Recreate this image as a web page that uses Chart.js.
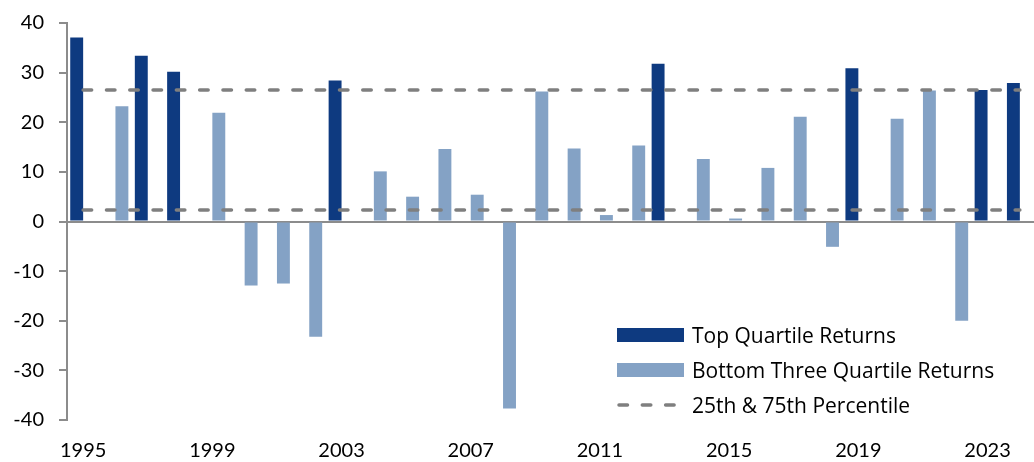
<!DOCTYPE html>
<html>
<head>
<meta charset="utf-8">
<script src="https://cdn.jsdelivr.net/npm/chart.js@4"></script>
<style>
  html, body { margin: 0; padding: 0; background: #fff; overflow: hidden; }
  #wrap { position: relative; width: 1036px; height: 462px; }
  #legend { position: absolute; left: 0; top: 0; font-family: 'Open Sans', sans-serif; font-size: 21px; color: #000; }
  .item { position: absolute; left: 617px; height: 24px; display: flex; align-items: center; white-space: nowrap; }
  .sw { width: 67px; height: 14px; margin-right: 8px; }
</style>
</head>
<body>
<div id="wrap">
  <canvas id="c"></canvas>
  <div id="legend"></div>
</div>
<script>
const years = ['1995','1996','1997','1998','1999','2000','2001','2002','2003','2004',
               '2005','2006','2007','2008','2009','2010','2011','2012','2013','2014',
               '2015','2016','2017','2018','2019','2020','2021','2022','2023','2024'];
const tickYears = ['1995','1999','2003','2007','2011','2015','2019','2023'];
const topQuartile = [37.1, null, 33.4, 30.2, null, null, null, null, 28.4, null,
                     null, null, null, null, null, null, null, null, 31.8, null,
                     null, null, null, null, 30.9, null, null, null, 26.5, 27.9];
const bottomQuartiles = [null, 23.2, null, null, 21.9, -12.9, -12.5, -23.2, null, 10.1,
                         5.0, 14.6, 5.4, -37.7, 26.2, 14.7, 1.3, 15.3, null, 12.6,
                         0.6, 10.8, 21.1, -5.1, null, 20.7, 26.4, -20.0, null, null];
const percentile75 = 26.5;
const percentile25 = 2.3;
const yTicks = [-40, -30, -20, -10, 0, 10, 20, 30, 40];

const DARK = '#0E3A80';
const LIGHT = '#84A2C5';
const DASH = '#7F7F7F';
const AXIS = '#8C8C8C';

const labelNames = ['Top Quartile Returns', 'Bottom Three Quartile Returns', '25th & 75th Percentile'];

const lineDs = (label, v) => ({
  type: 'line', label, data: years.map(() => v),
  borderColor: DASH, borderWidth: 3.5, borderDash: [8.5, 14.8], borderCapStyle: 'round',
  pointRadius: 0, fill: false, order: 0
});

new Chart(document.getElementById('c'), {
  type: 'bar',
  data: {
    labels: years,
    datasets: [
      { label: labelNames[0], data: topQuartile, backgroundColor: DARK, order: 1,
        categoryPercentage: 0.8, barPercentage: 1.0 },
      { label: labelNames[1], data: bottomQuartiles, backgroundColor: LIGHT, order: 1,
        categoryPercentage: 0.8, barPercentage: 1.0 },
      lineDs(labelNames[2], percentile75),
      lineDs(labelNames[2] + ' ', percentile25)
    ]
  },
  options: {
    responsive: true,
    maintainAspectRatio: false,
    animation: false,
    layout: { padding: { top: 23, right: 0, bottom: 0, left: 0 } },
    plugins: { legend: { display: false }, tooltip: { enabled: false } },
    scales: {
      x: {
        grid: { display: false, drawTicks: false },
        border: { display: false },
        ticks: {
          autoSkip: false, maxRotation: 0, padding: 19,
          color: '#000', font: { family: 'Lato', size: 20 },
          callback: (v, i) => tickYears.includes(years[i]) ? years[i] : ''
        },
        afterFit: s => { s.height = 42; s.paddingLeft = 0; s.paddingRight = 0; }
      },
      y: {
        min: -40, max: 40,
        afterBuildTicks: s => { s.ticks = yTicks.map(v => ({ value: v })); },
        grid: {
          color: c => (c.tick && c.tick.value === 0) ? AXIS : 'rgba(0,0,0,0)',
          tickColor: AXIS, tickLength: 8, lineWidth: 2, drawOnChartArea: true
        },
        border: { display: true, color: AXIS, width: 2 },
        ticks: { padding: 15, color: '#000', font: { family: 'Lato', size: 20 } },
        afterFit: s => { s.width = 67; s.paddingTop = 0; s.paddingBottom = 0; }
      }
    }
  }
});

// HTML legend placed inside the plot area (bottom right)
const legend = document.getElementById('legend');
const rows = [
  { top: 323, kind: 'box', color: DARK, text: labelNames[0] },
  { top: 358, kind: 'box', color: LIGHT, text: labelNames[1] },
  { top: 393, kind: 'dash', color: DASH, text: labelNames[2] }
];
rows.forEach(r => {
  const it = document.createElement('div');
  it.className = 'item';
  it.style.top = r.top + 'px';
  let sw;
  if (r.kind === 'box') {
    sw = document.createElement('div');
    sw.className = 'sw';
    sw.style.background = r.color;
  } else {
    sw = document.createElementNS('http://www.w3.org/2000/svg', 'svg');
    sw.setAttribute('width', '67'); sw.setAttribute('height', '14');
    sw.style.marginRight = '8px';
    const ln = document.createElementNS('http://www.w3.org/2000/svg', 'line');
    ln.setAttribute('x1', '2'); ln.setAttribute('x2', '67');
    ln.setAttribute('y1', '7'); ln.setAttribute('y2', '7');
    ln.setAttribute('stroke', r.color); ln.setAttribute('stroke-width', '3.5');
    ln.setAttribute('stroke-dasharray', '8.5 14.8'); ln.setAttribute('stroke-linecap', 'round');
    sw.appendChild(ln);
  }
  const tx = document.createElement('span');
  tx.textContent = r.text;
  it.appendChild(sw); it.appendChild(tx);
  legend.appendChild(it);
});
</script>
</body>
</html>
